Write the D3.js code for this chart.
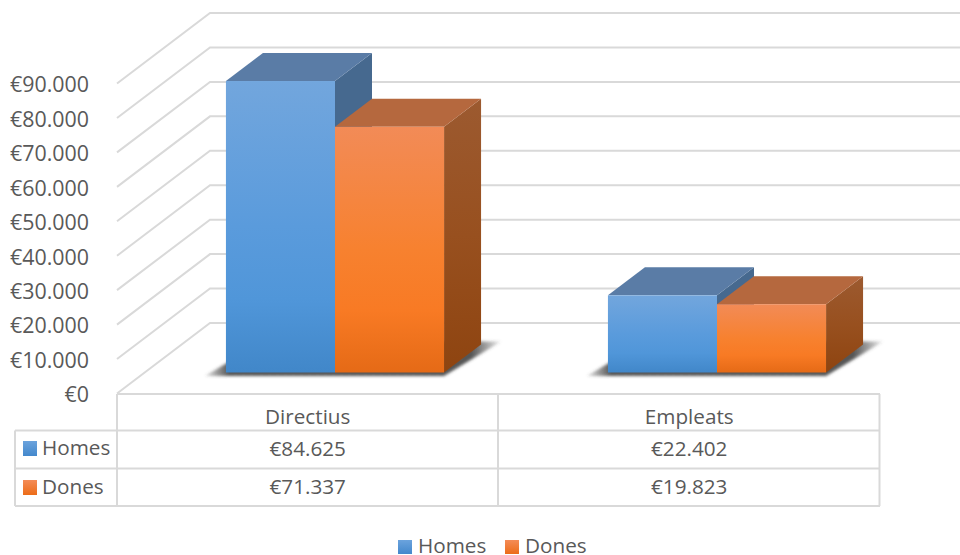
<!DOCTYPE html>
<html><head><meta charset="utf-8">
<script src="https://cdn.jsdelivr.net/npm/d3@7"></script>
<style>html,body{margin:0;padding:0;background:#fff}svg{display:block}text{font-family:"Open Sans",sans-serif;fill:#595959}</style>
</head><body><div id="c"></div>
<script>
const categories = ["Directius", "Empleats"];
const seriesNames = ["Homes", "Dones"];
const homes = [84625, 22402];
const dones = [71337, 19823];
const tableHomes = ["€84.625", "€22.402"];
const tableDones = ["€71.337", "€19.823"];
const ticks = [0, 10000, 20000, 30000, 40000, 50000, 60000, 70000, 80000, 90000];

const W = 960, H = 555;
const svg = d3.select("#c").append("svg").attr("width", W).attr("height", H);
const defs = svg.append("defs");
const grid = "#d9d9d9";

function grad(id, stops) {
  const g = defs.append("linearGradient").attr("id", id).attr("x1", 0).attr("y1", 0).attr("x2", 0).attr("y2", 1);
  stops.forEach(s => g.append("stop").attr("offset", s[0]).attr("stop-color", s[1]));
}
grad("fH", [[0, "#72a6dd"], [0.5, "#5a9bdc"], [0.75, "#5096d9"], [1, "#4187c9"]]);
grad("fD", [[0, "#f28b57"], [0.5, "#f7812f"], [0.75, "#f87a24"], [1, "#e56a16"]]);
grad("sH", [[0, "#46698f"], [1, "#46698f"]]);
grad("sD", [[0, "#9c5a30"], [0.5, "#98501f"], [1, "#8e4410"]]);
grad("kH", [[0, "#6ba3dd"], [1, "#4388cc"]]);
grad("kD", [[0, "#f48c58"], [1, "#ec6c18"]]);
defs.append("filter").attr("id", "blur").attr("x", "-10%").attr("y", "-40%").attr("width", "120%").attr("height", "180%")
  .append("feGaussianBlur").attr("stdDeviation", 1.6);
const sg = defs.append("linearGradient").attr("id", "shadow").attr("x1", 0).attr("y1", 0).attr("x2", 1).attr("y2", 0);
[[0, "#444", 0.15], [0.08, "#444", 0.9], [0.9, "#444", 0.9], [1, "#444", 0.1]].forEach(s =>
  sg.append("stop").attr("offset", s[0]).attr("stop-color", s[1]).attr("stop-opacity", s[2]));

// scales
const h = d3.scaleLinear().domain([0, 90000]).range([0, 310]);
const yFront = v => 393.5 - h(v);
const yBack = v => 323 - h(v);
const xFront = 117, xBack = 210;
const colX = d3.scaleBand().domain(categories).range([117, 880]);
const barGroup = d3.scaleBand().domain(categories).range([144, 908]).paddingInner(0.429).paddingOuter(0.2145);
const barX = d3.scaleBand().domain(seriesNames).range([0, 1]);
const baseY = 372.5, dx = 37, dy = 28;

// gridlines
svg.append("g").selectAll("path").data(ticks).join("path")
  .attr("d", t => `M${xFront},${yFront(t)}L${xBack},${yBack(t)}L${W},${yBack(t)}`)
  .attr("fill", "none").attr("stroke", grid).attr("stroke-width", 2);

// y axis labels
const axisG = svg.append("g").attr("transform", "translate(89,1.5)");
const yAxisScale = d3.scaleLinear().domain([0, 90000]).range([yFront(0), yFront(90000)]);
const fmt = v => "€" + (v === 0 ? "0" : d3.format(",")(v).replace(",", "."));
axisG.call(d3.axisLeft(yAxisScale).tickValues(ticks).tickFormat(fmt).tickSize(0).tickPadding(0))
  .call(g => g.select(".domain").remove());
axisG.selectAll("text").style("font-size", "21.4px").style("font-family", '"Open Sans",sans-serif');

// bars
const seriesVals = [homes, dones], keys = ["H", "D"];
const topCol = ["#5a7ca6", "#b5683e"];
categories.forEach((c, ci) => {
  const g0 = barGroup(c), bw = barGroup.bandwidth();
  const L = g0, R = g0 + bw;
  svg.append("path").attr("d", `M${L - 21},${baseY + 3.5}L${R},${baseY + 3.5}L${R + 57},${baseY - 31}L${L + 37},${baseY - 31}Z`)
    .attr("fill", "url(#shadow)").attr("filter", "url(#blur)");
  seriesNames.forEach((s, si) => {
    const v = seriesVals[si][ci];
    const x0 = g0 + barX(s) * bw, x1 = x0 + barX.bandwidth() * bw;
    const top = baseY - h(v);
    const b = svg.append("g");
    b.append("path").attr("d", `M${x1},${top}L${x1 + dx},${top - dy}L${x1 + dx},${baseY - dy}L${x1},${baseY}Z`).attr("fill", `url(#s${keys[si]})`);
    b.append("path").attr("d", `M${x0},${top}L${x0 + dx},${top - dy}L${x1 + dx},${top - dy}L${x1},${top}Z`).attr("fill", topCol[si]);
    b.append("rect").attr("x", x0).attr("y", top).attr("width", x1 - x0).attr("height", h(v)).attr("fill", `url(#f${keys[si]})`);
  });
});

// data table
const rows = [394, 430.5, 468.5, 506];
const tx = 15;
const tg = svg.append("g").attr("stroke", grid).attr("stroke-width", 2);
tg.append("line").attr("x1", 117).attr("x2", 880).attr("y1", rows[0]).attr("y2", rows[0]);
rows.slice(1).forEach(y => tg.append("line").attr("x1", tx).attr("x2", 880).attr("y1", y).attr("y2", y));
tg.append("line").attr("x1", tx).attr("x2", tx).attr("y1", rows[1]).attr("y2", rows[3]);
[117, 498, 879.5].forEach(x => tg.append("line").attr("x1", x).attr("x2", x).attr("y1", rows[0]).attr("y2", rows[3]));

const T = (x, y, s, a) => svg.append("text").attr("x", x).attr("y", y).attr("text-anchor", a || "middle").attr("font-size", 20.7).text(s);
categories.forEach((c, i) => {
  const cx = colX(c) + colX.bandwidth() / 2;
  T(cx, 424, c);
  T(cx, 456, tableHomes[i]);
  T(cx, 494, tableDones[i]);
});
seriesNames.forEach((s, i) => {
  const y = [441, 480][i];
  svg.append("rect").attr("x", 23).attr("y", y).attr("width", 14).attr("height", 15).attr("fill", `url(#k${keys[i]})`);
  T(42, [455, 493.5][i], s, "start");
});
// legend
const lx = [398, 505];
seriesNames.forEach((s, i) => {
  svg.append("rect").attr("x", lx[i]).attr("y", 540).attr("width", 14).attr("height", 14).attr("fill", `url(#k${keys[i]})`);
  T(lx[i] + 20, 553, s, "start");
});
</script></body></html>
